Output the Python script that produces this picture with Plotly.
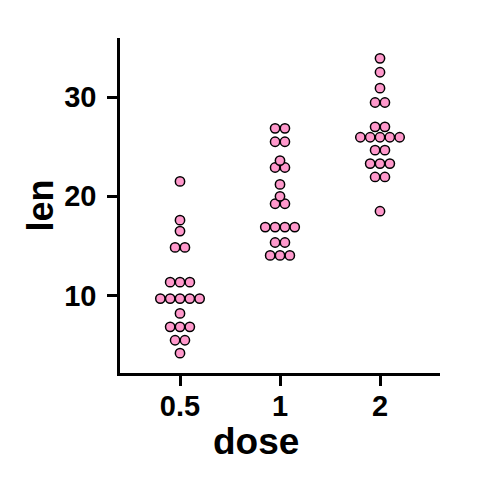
import plotly.graph_objects as go
import numpy as np

# ToothGrowth tooth length by dose (mg/day)
doses = ["0.5", "1", "2"]
len_05 = [4.2, 11.5, 7.3, 5.8, 6.4, 10, 11.2, 11.2, 5.2, 7,
          15.2, 21.5, 17.6, 9.7, 14.5, 10, 8.2, 9.4, 16.5, 9.7]
len_1 = [16.5, 16.5, 15.2, 17.3, 22.5, 17.3, 13.6, 14.5, 18.8, 15.5,
         19.7, 23.3, 23.6, 26.4, 20, 25.2, 25.8, 21.2, 14.5, 27.3]
len_2 = [23.6, 18.5, 33.9, 25.5, 26.4, 32.5, 26.7, 21.5, 23.3, 29.5,
         25.5, 26.4, 22.4, 24.5, 24.8, 30.9, 26.4, 27.3, 29.4, 23]
groups = [len_05, len_1, len_2]

W, H = 480, 480
# page body adds 8px, so shift margins to keep plot area at 120..440 / 38..373
ml, mr, mt, mb = 112, 48, 30, 115
xr = [0.4, 3.6]
yr = [2.2, 35.95]

allv = len_05 + len_1 + len_2
binwidth = (max(allv) - min(allv)) / 30

px_y = (H - mt - mb) / (yr[1] - yr[0])
px_x = (W - ml - mr) / (xr[1] - xr[0])
dot_px = binwidth * px_y
dx = dot_px / px_x


def dotdensity(vals):
    # same binning as ggplot2 geom_dotplot(method="dotdensity")
    vals = sorted(vals)
    bins = []
    end = -np.inf
    for v in vals:
        if v >= end:
            bins.append([])
            end = v + binwidth
        bins[-1].append(v)
    return [((min(b) + max(b)) / 2, len(b)) for b in bins]


xs, ys = [], []
for i, g in enumerate(groups):
    for center, n in dotdensity(g):
        for k in range(n):
            xs.append(i + 1 + (k - (n - 1) / 2) * dx)
            ys.append(center)

fig = go.Figure()
fig.add_trace(go.Scatter(
    x=xs, y=ys, mode="markers",
    marker=dict(size=dot_px - 0.5, color="#FF99CC",
                line=dict(color="black", width=1.5)),
    showlegend=False, hoverinfo="skip"))

font = dict(family="Liberation Sans, Arial, sans-serif", color="black")
fig.update_layout(
    width=W, height=H,
    margin=dict(l=ml, r=mr, t=mt, b=mb),
    plot_bgcolor="white", paper_bgcolor="white",
    font=font,
)
fig.update_xaxes(
    range=xr, tickvals=[1, 2, 3], ticktext=doses,
    showgrid=False, zeroline=False,
    showline=True, linecolor="black", linewidth=2.5,
    ticks="outside", ticklen=10, tickwidth=2.5, tickcolor="black",
    ticklabelstandoff=-5,
    tickfont=dict(size=29, weight="bold", **font),
)
fig.update_yaxes(
    range=yr, tickvals=[10, 20, 30],
    showgrid=False, zeroline=False,
    showline=True, linecolor="black", linewidth=2.5,
    ticks="outside", ticklen=10, tickwidth=2.5, tickcolor="black",
    ticklabelstandoff=5,
    tickfont=dict(size=29, weight="bold", **font),
    title=dict(text="len", font=dict(size=36, weight="bold", **font), standoff=0),
)
# x title sits a bit left of the panel centre in the reference
fig.add_annotation(
    text="dose", xref="paper", yref="paper", x=0.425, y=-0.203,
    xanchor="center", yanchor="middle", showarrow=False,
    font=dict(size=37, weight="bold", **font),
)

fig.write_html("out.html")
